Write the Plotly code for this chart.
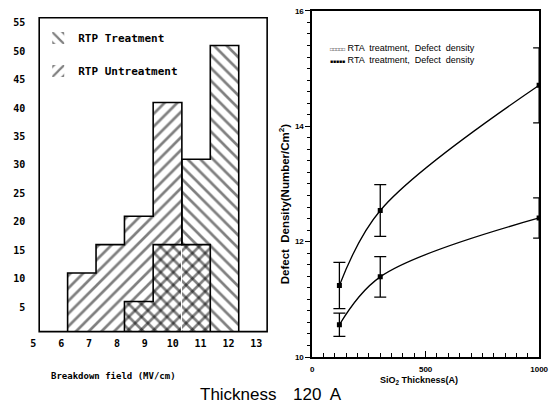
import plotly.graph_objects as go

W, H = 554, 409

# ---------------- Left panel: breakdown field histogram ----------------
bin_left = [6.23, 7.25, 8.27, 9.30, 10.33, 11.35]
bin_width = 1.02
untreat_counts = [11, 16, 21, 41, 16, 0]
treat_counts = [0, 0, 6, 16, 31, 51]
left_xticks = [5, 6, 7, 8, 9, 10, 11, 12, 13]
left_yticks = [5, 10, 15, 20, 25, 30, 35, 40, 45, 50, 55]

# ---------------- Right panel: defect density vs thickness ----------------
thickness = [120, 300, 1000]
lower_density = [10.56, 11.39, 12.41]
lower_err = [0.2, 0.35, 0.35]
upper_density = [11.24, 12.54, 14.71]
upper_err = [0.4, 0.45, 0.65]
right_xticks = [0, 500, 1000]
right_yticks = [10, 12, 14, 16]


def px(x):
    return x / W


def py(y):
    return 1 - y / H


centers = [b + bin_width / 2 for b in bin_left]
edges = bin_left + [bin_left[-1] + bin_width]
mono = "DejaVu Sans Mono"

fig = go.Figure()


def hatch_bar(name, counts, shape):
    return go.Bar(
        x=centers, y=counts, width=bin_width, name=name, legendgroup=name,
        marker=dict(
            color="rgba(0,0,0,0)",
            line=dict(color="black", width=0),
            pattern=dict(shape=shape, fgcolor="black", bgcolor="rgba(0,0,0,0)",
                         size=9, solidity=0.3, fillmode="overlay"),
        ),
        xaxis="x", yaxis="y",
    )


def step_outline(name, counts):
    xs = [edges[0]] + edges
    ys = [0] + counts + [0]
    return go.Scatter(x=xs, y=ys, mode="lines", line=dict(shape="hv", color="black", width=1.6),
                      legendgroup=name, showlegend=False, hoverinfo="skip",
                      xaxis="x", yaxis="y")


fig.add_trace(hatch_bar("RTP Treatment", treat_counts, "\\"))
fig.add_trace(hatch_bar("RTP Untreatment", untreat_counts, "/"))
fig.add_trace(step_outline("RTP Treatment", treat_counts))
fig.add_trace(step_outline("RTP Untreatment", untreat_counts))

common_line = dict(color="black", width=1.3)
for dens, err in [(upper_density, upper_err), (lower_density, lower_err)]:
    fig.add_trace(go.Scatter(
        x=thickness, y=dens, mode="lines+markers", showlegend=False,
        line=dict(shape="spline", **common_line),
        marker=dict(symbol="square", size=5, color="black"),
        error_y=dict(type="data", array=err, color="black", thickness=1.3, width=6),
        xaxis="x2", yaxis="y2",
    ))

fig.update_layout(
    width=W, height=H,
    margin=dict(l=0, r=0, t=0, b=0),
    paper_bgcolor="white", plot_bgcolor="white",
    barmode="overlay", bargap=0,
    font=dict(family="Liberation Sans", color="black"),
    xaxis=dict(
        domain=[px(31), px(270)], range=[5, 13.39],
        tickvals=left_xticks, showgrid=False, zeroline=False, showline=False,
        ticks="", ticklabelstandoff=4,
        tickfont=dict(family=mono, size=10, color="black", weight="bold"),
        anchor="y",
    ),
    yaxis=dict(
        domain=[py(335), py(14)], range=[0.7, 55.9],
        tickvals=left_yticks, showgrid=False, zeroline=False, showline=False,
        ticks="", ticklabelstandoff=7,
        tickfont=dict(family=mono, size=10, color="black", weight="bold"),
        anchor="x",
    ),
    xaxis2=dict(
        domain=[px(316), px(548)], range=[0, 1000],
        tickvals=right_xticks, showgrid=False, zeroline=False,
        showline=True, linecolor="black", linewidth=1.5, mirror=True,
        ticks="inside", ticklen=6, tickcolor="black",
        minor=dict(dtick=50, ticks="inside", ticklen=4, tickcolor="black"),
        tickfont=dict(size=8, color="black", weight="bold"),
        ticklabeloverflow="allow", ticklabelstandoff=4,
        anchor="y2",
    ),
    yaxis2=dict(
        domain=[py(361), py(7)], range=[10, 16],
        tickvals=right_yticks, showgrid=False, zeroline=False,
        showline=True, linecolor="black", linewidth=1.5, mirror=True,
        ticks="outside", ticklen=5, tickcolor="black",
        minor=dict(dtick=0.2, ticks="outside", ticklen=3, tickcolor="black"),
        tickfont=dict(size=8, color="black", weight="bold"),
        anchor="x2",
    ),
    legend=dict(
        x=px(36), y=py(20), xanchor="left", yanchor="top",
        bgcolor="rgba(0,0,0,0)", borderwidth=0,
        font=dict(family=mono, size=11, color="black", weight="bold"),
        tracegroupgap=14, itemwidth=30,
    ),
    showlegend=True,
)

# frame for left panel
fig.add_shape(type="rect", xref="paper", yref="paper",
              x0=px(37), x1=px(270), y0=py(335), y1=py(14),
              line=dict(color="black", width=1.6), layer="above")

ann = []
ann.append(dict(text="Breakdown field (MV/cm)", x=px(113), y=py(380),
                font=dict(family=mono, size=9, color="black", weight="bold")))
ann.append(dict(text="Defect  Density(Number/Cm<sup>2</sup>)", x=px(287), y=py(204),
                textangle=-90,
                font=dict(family="Liberation Sans", size=11.5, color="black", weight="bold")))
ann.append(dict(text="SiO<sub>2</sub> Thickness(A)", x=px(425), y=py(385),
                font=dict(family="Liberation Sans", size=9, color="black", weight="bold")))
sym_open = "<span style='font-size:5px'>\u25a1\u25a1\u25a1\u25a1\u25a1</span>"
sym_fill = "<span style='font-size:5px'>\u25a0\u25a0\u25a0\u25a0\u25a0</span>"
ann.append(dict(
    text=sym_open + " RTA  treatment,  Defect  density<br>" + sym_fill + " RTA  treatment,  Defect  density",
    x=px(332), y=py(51), xanchor="left", align="left",
    font=dict(family="Liberation Sans", size=9, color="black")))
ann.append(dict(text="Thickness", x=px(199), y=py(399), xanchor="left",
                font=dict(family="Liberation Sans", size=17, color="black")))
ann.append(dict(text="120  A", x=px(294), y=py(399), xanchor="left",
                font=dict(family="Liberation Sans", size=17, color="black")))

for a in ann:
    a.update(xref="paper", yref="paper", showarrow=False, yanchor="middle")
    a.setdefault("xanchor", "center")
    fig.add_annotation(**a)

fig.write_html("out.html")
